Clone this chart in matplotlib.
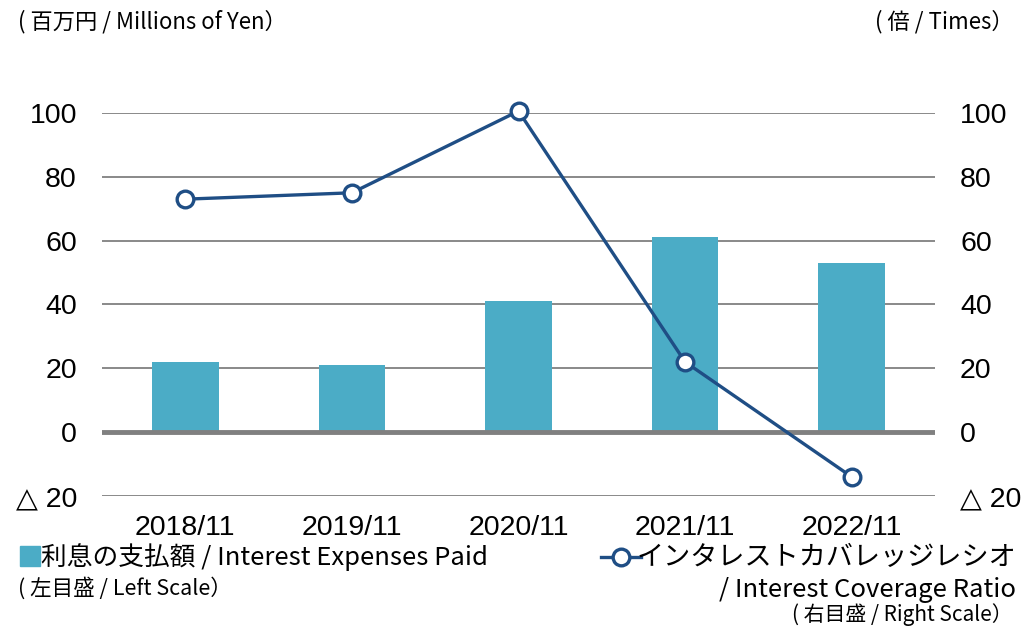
import matplotlib.pyplot as plt
from matplotlib.lines import Line2D
from matplotlib.patches import Rectangle
import numpy as np

# データ
years = ['2018/11', '2019/11', '2020/11', '2021/11', '2022/11']
interest_paid = [22, 21, 41, 61, 53]          # 百万円
coverage_ratio = [73, 75, 100.6, 22, -14]     # 倍
yticks = [-20, 0, 20, 40, 60, 80, 100]
ytick_labels = ['△ 20', '0', '20', '40', '60', '80', '100']

bar_color = '#4BACC6'
line_color = '#1F4E85'
jp = ['Noto Sans CJK JP', 'DejaVu Sans']
plt.rcParams['font.family'] = ['Liberation Sans', 'DejaVu Sans']

fig = plt.figure(figsize=(10.22, 6.27), dpi=100)
ax = fig.add_axes([102 / 1022, 1 - 496 / 627, (935 - 102) / 1022, (496 - 113) / 627])
ax2 = ax.twinx()

x = np.arange(len(years))
ax.bar(x, interest_paid, width=0.4, color=bar_color, zorder=2)

# グリッド
for v in yticks:
    if v == 0:
        ax.axhline(v, color='#808080', lw=3.5, zorder=3)
    else:
        ax.axhline(v, color='#808080', lw=1.3, zorder=1)

ax2.plot(x, coverage_ratio, color=line_color, lw=2.4, marker='o', ms=12,
         mfc='white', mec=line_color, mew=2.4, zorder=4, clip_on=False)

for a in (ax, ax2):
    a.set_xlim(-0.5, len(years) - 0.5)
    a.set_ylim(-20, 100)
    a.set_yticks(yticks)
    a.set_yticklabels(ytick_labels)
    a.tick_params(length=0, labelsize=20.5)
    for s in a.spines.values():
        s.set_visible(False)
ax.tick_params(axis='y', pad=18)
ax2.tick_params(axis='y', pad=18)
ax.set_xticks(x)
ax.set_xticklabels(years)
ax.tick_params(axis='x', pad=14)
ax2.set_zorder(ax.get_zorder() + 1)

# 単位
fig.text(18 / 1022, 1 - 22 / 627, '( 百万円 / Millions of Yen）', family=jp,
         fontsize=16, va='center', ha='left')
fig.text(1014 / 1022, 1 - 22 / 627, '( 倍 / Times）', family=jp,
         fontsize=16, va='center', ha='right')

# 凡例
fig.add_artist(Rectangle((20 / 1022, 1 - 566 / 627), 20 / 1022, 20 / 627,
                         transform=fig.transFigure, color=bar_color))
fig.text(41 / 1022, 1 - 557 / 627, '利息の支払額 / Interest Expenses Paid', family=jp,
         fontsize=18.5, va='center', ha='left')
fig.text(18 / 1022, 1 - 588 / 627, '( 左目盛 / Left Scale）', family=jp,
         fontsize=15.5, va='center', ha='left')

fig.add_artist(Line2D([601 / 1022, 641 / 1022], [1 - 557 / 627] * 2,
                      transform=fig.transFigure, color=line_color, lw=2.4))
fig.add_artist(Line2D([621 / 1022], [1 - 557 / 627], transform=fig.transFigure,
                      marker='o', ms=12, mfc='white', mec=line_color, mew=2.4))
fig.text(1016 / 1022, 1 - 557 / 627, 'インタレストカバレッジレシオ', family=jp,
         fontsize=19.5, va='center', ha='right')
fig.text(1016 / 1022, 1 - 590 / 627, '/ Interest Coverage Ratio', family=jp,
         fontsize=18.5, va='center', ha='right')
fig.text(1013 / 1022, 1 - 615 / 627, '( 右目盛 / Right Scale）', family=jp,
         fontsize=15, va='center', ha='right')

fig.savefig('out.png', dpi=100)
